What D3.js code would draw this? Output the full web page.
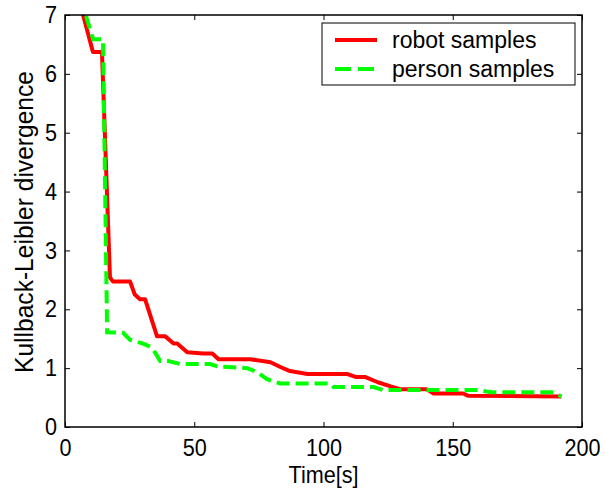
<!DOCTYPE html>
<html>
<head>
<meta charset="utf-8">
<script src="https://cdn.jsdelivr.net/npm/d3@7"></script>
<style>
  body { margin: 0; background: #fff; }
  text { font-family: "Liberation Sans", Arial, sans-serif; }
</style>
</head>
<body>
<div id="chart"></div>
<script>
// time [s] and KL divergence
var robotT = [5, 7, 10.8, 14.3, 17.4, 18.6, 25.2, 27, 29, 31, 35.6, 38.8, 42, 43.4, 47.3, 53.5, 57, 59.4,
    71.7, 79.5, 83.3, 87, 93.8, 109.3, 112.4, 116, 121, 126, 130, 140, 142.6, 154, 156, 192];
var robotV = [7.4, 7.0, 6.37, 6.37, 2.54, 2.47, 2.47, 2.25, 2.17, 2.17, 1.54, 1.54, 1.42, 1.42, 1.27, 1.25, 1.25, 1.15,
    1.15, 1.10, 1.02, 0.95, 0.90, 0.90, 0.85, 0.85, 0.76, 0.69, 0.64, 0.64, 0.57, 0.57, 0.53, 0.52];
var personT = [7, 8, 10.9, 14.7, 16.3, 22.5, 25.2, 30, 33.7, 36.8, 40, 44.6, 56.2, 58.9, 70.5, 74.4, 78.3, 83.3,
    102.7, 103.9, 119.4, 123, 159.7, 164.7, 189, 192];
var personV = [7.3, 7.0, 6.59, 6.59, 1.61, 1.60, 1.48, 1.42, 1.35, 1.12, 1.12, 1.07, 1.07, 1.03, 1.00, 0.93, 0.81, 0.74,
    0.74, 0.68, 0.68, 0.63, 0.63, 0.59, 0.59, 0.52];
var xTicks = [0, 50, 100, 150, 200];
var yTicks = [0, 1, 2, 3, 4, 5, 6, 7];
var seriesNames = ['robot samples', 'person samples'];

var width = 605, height = 488;
var margin = {top: 15, right: 23, bottom: 61, left: 65};

var x = d3.scaleLinear().domain([0, 200]).range([margin.left, width - margin.right]);
var y = d3.scaleLinear().domain([0, 7]).range([height - margin.bottom, margin.top]);

var svg = d3.select('#chart').append('svg')
    .attr('width', width).attr('height', height);

svg.append('defs').append('clipPath').attr('id', 'clip')
    .append('rect')
    .attr('x', x(0)).attr('y', y(7))
    .attr('width', x(200) - x(0)).attr('height', y(0) - y(7));

function toPts(t, v) { return t.map((d, i) => ({t: d, v: v[i]})); }

var line = d3.line().x(d => x(d.t)).y(d => y(d.v));

var plot = svg.append('g').attr('clip-path', 'url(#clip)');
plot.append('path')
    .datum(toPts(robotT, robotV))
    .attr('fill', 'none')
    .attr('stroke', '#ff0000')
    .attr('stroke-width', 4)
    .attr('stroke-linejoin', 'round')
    .attr('d', line);
plot.append('path')
    .datum(toPts(personT, personV))
    .attr('fill', 'none')
    .attr('stroke', '#00ff00')
    .attr('stroke-width', 4)
    .attr('stroke-dasharray', '13,6')
    .attr('d', line);

// axes, MATLAB style box with inward ticks
var tickLen = 5;
var fmt = d3.format('d');
svg.append('g')
    .attr('transform', `translate(0,${y(0)})`)
    .call(d3.axisBottom(x).tickValues(xTicks).tickFormat(fmt).tickSizeInner(-tickLen).tickSizeOuter(0).tickPadding(12))
    .call(g => g.select('.domain').remove())
    .call(g => g.selectAll('text').attr('class', 'tl').attr('font-size', 24).attr('fill', '#000'));
svg.append('g')
    .attr('transform', `translate(0,${y(7)})`)
    .call(d3.axisTop(x).tickValues(xTicks).tickSizeInner(-tickLen).tickSizeOuter(0).tickFormat(''))
    .call(g => g.select('.domain').remove());
svg.append('g')
    .attr('transform', `translate(${x(0)},0)`)
    .call(d3.axisLeft(y).tickValues(yTicks).tickFormat(fmt).tickSizeInner(-tickLen).tickSizeOuter(0).tickPadding(8))
    .call(g => g.select('.domain').remove())
    .call(g => g.selectAll('text').attr('class', 'tl').attr('font-size', 24).attr('fill', '#000'));
svg.append('g')
    .attr('transform', `translate(${x(200)},0)`)
    .call(d3.axisRight(y).tickValues(yTicks).tickSizeInner(-tickLen).tickSizeOuter(0).tickFormat(''))
    .call(g => g.select('.domain').remove());
svg.selectAll('.tick line').attr('stroke', '#000');

svg.append('rect')
    .attr('x', x(0)).attr('y', y(7))
    .attr('width', x(200) - x(0)).attr('height', y(0) - y(7))
    .attr('fill', 'none').attr('stroke', '#000').attr('stroke-width', 1.5);

svg.append('text')
    .attr('class', 'tl')
    .attr('x', x(100)).attr('y', 483)
    .attr('text-anchor', 'middle').attr('font-size', 24)
    .text('Time[s]');
svg.append('text')
    .attr('transform', `translate(33,${(y(0) + y(7)) / 2 + 1}) rotate(-90)`)
    .attr('text-anchor', 'middle').attr('font-size', 26)
    .attr('textLength', 302).attr('lengthAdjust', 'spacingAndGlyphs')
    .text('Kullback-Leibler divergence');

// the original figure is squeezed a little horizontally
svg.selectAll('.tl').each(function () {
    this.setAttribute('textLength', this.getComputedTextLength() * 0.9);
    this.setAttribute('lengthAdjust', 'spacingAndGlyphs');
});

// legend
var lg = svg.append('g').attr('transform', 'translate(322,23)');
lg.append('rect').attr('width', 253).attr('height', 62)
    .attr('fill', '#fff').attr('stroke', '#000').attr('stroke-width', 1);
var colors = ['#ff0000', '#00ff00'];
seriesNames.forEach(function (name, i) {
    var yy = 17 + i * 29;
    lg.append('line')
        .attr('x1', 13).attr('x2', 55).attr('y1', yy).attr('y2', yy)
        .attr('stroke', colors[i]).attr('stroke-width', 4)
        .attr('stroke-dasharray', i === 1 ? '16,7' : null);
    lg.append('text')
        .attr('x', 70).attr('y', yy + 8)
        .attr('font-size', 23)
        .text(name);
});
</script>
</body>
</html>
